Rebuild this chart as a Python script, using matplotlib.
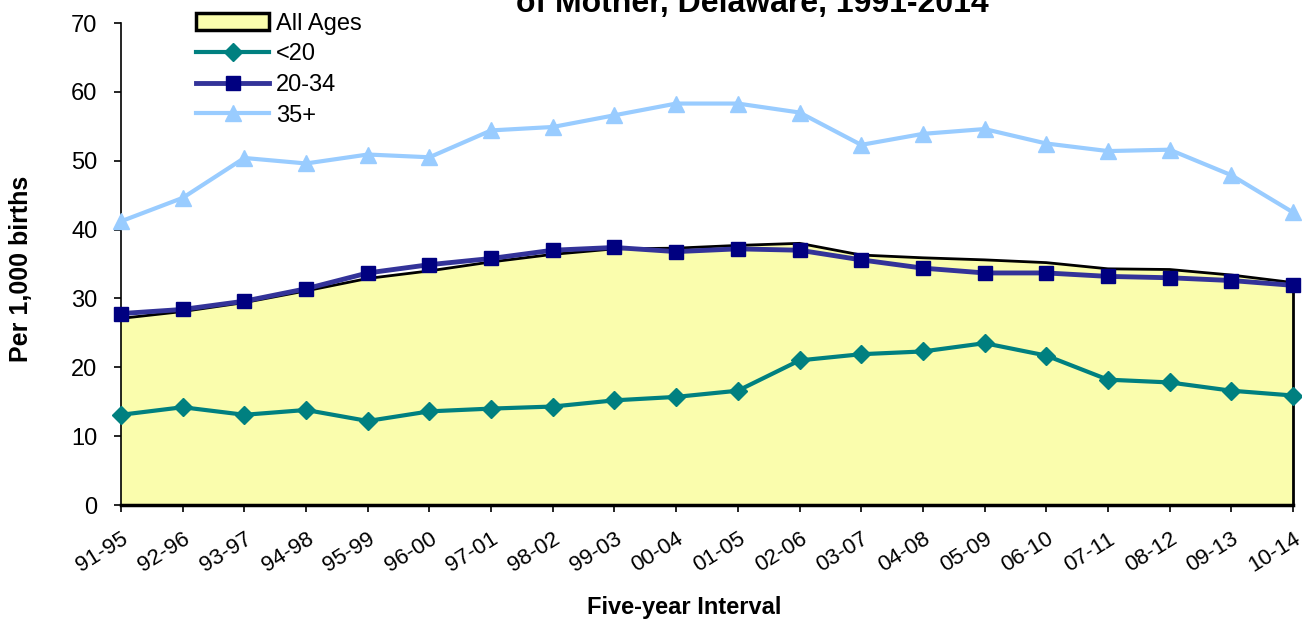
import matplotlib
matplotlib.use("Agg")
import matplotlib.pyplot as plt
from matplotlib.patches import Patch
from matplotlib.lines import Line2D

plt.rcParams['font.family'] = ['Liberation Sans', 'DejaVu Sans']

intervals = ["91-95", "92-96", "93-97", "94-98", "95-99", "96-00", "97-01", "98-02",
             "99-03", "00-04", "01-05", "02-06", "03-07", "04-08", "05-09", "06-10",
             "07-11", "08-12", "09-13", "10-14"]
all_ages = [27.1, 28.1, 29.4, 31.1, 32.9, 34.0, 35.3, 36.4, 37.2, 37.3,
            37.7, 38.0, 36.3, 35.9, 35.6, 35.2, 34.3, 34.2, 33.4, 32.3]
under20 = [13.1, 14.2, 13.1, 13.8, 12.2, 13.6, 14.0, 14.3, 15.2, 15.7,
           16.6, 21.0, 21.9, 22.3, 23.5, 21.7, 18.2, 17.8, 16.6, 15.9]
age20_34 = [27.8, 28.4, 29.6, 31.4, 33.7, 34.9, 35.8, 37.0, 37.4, 36.8,
            37.2, 37.0, 35.6, 34.4, 33.7, 33.7, 33.2, 33.0, 32.6, 31.9]
age35plus = [41.2, 44.6, 50.4, 49.6, 50.9, 50.5, 54.4, 54.9, 56.6, 58.3,
             58.3, 57.0, 52.3, 53.9, 54.6, 52.5, 51.4, 51.6, 47.9, 42.5]

W, H = 1302, 619
fig = plt.figure(figsize=(W / 100, H / 100), dpi=100)
ax = fig.add_axes([121 / W, 1 - 505 / H, (1293 - 121) / W, (505 - 23) / H])

x = list(range(len(intervals)))
ax.fill_between(x, all_ages, 0, facecolor='#FAFDAD', edgecolor='none', zorder=1)
ax.plot(x, all_ages, color='black', lw=2, zorder=2, clip_on=False)
ax.plot([x[-1], x[-1]], [0, all_ages[-1]], color='black', lw=2, zorder=2, clip_on=False)

ax.plot(x, under20, color='#008080', lw=3, marker='D', ms=9, mfc='#008080', mec='#008080',
        zorder=4, clip_on=False)
ax.plot(x, age20_34, color='#333399', lw=3.5, marker='s', ms=10, mfc='#000080', mec='#000080',
        zorder=3, clip_on=False)
ax.plot(x, age35plus, color='#99CCFF', lw=3, marker='^', ms=12, mfc='#99CCFF', mec='#99CCFF',
        zorder=3, clip_on=False)

ax.set_xlim(0, len(intervals) - 1)
ax.set_ylim(0, 70)
ax.set_yticks(range(0, 71, 10))
ax.set_xticks(x)
ax.set_xticklabels(intervals, rotation=32, ha='right', rotation_mode='anchor', fontsize=16)
ax.tick_params(axis='y', labelsize=17, length=5, width=1.2, direction='out', pad=12)
ax.tick_params(axis='x', length=5, width=1.2, direction='out', pad=12)
for s in ['top', 'right']:
    ax.spines[s].set_visible(False)
ax.spines['left'].set_linewidth(1.2)
ax.spines['bottom'].set_linewidth(2.5)

fig.text(21 / W, 1 - 269 / H, "Per 1,000 births", fontsize=18, fontweight='bold',
         rotation=90, ha='center', va='center')
fig.text(684 / W, 1 - 614 / H, "Five-year Interval", fontsize=17, fontweight='bold',
         ha='center', va='baseline')

fig.text(752 / W, 1 - 12 / H, "of Mother, Delaware, 1991-2014", fontsize=23,
         fontweight='bold', ha='center', va='baseline')

handles = [
    Patch(facecolor='#FAFDAD', edgecolor='black', lw=2.5),
    Line2D([], [], color='#008080', lw=3, marker='D', ms=9, mfc='#008080', mec='#008080'),
    Line2D([], [], color='#333399', lw=3.5, marker='s', ms=10, mfc='#000080', mec='#000080'),
    Line2D([], [], color='#99CCFF', lw=3, marker='^', ms=12, mfc='#99CCFF', mec='#99CCFF'),
]
labels = ["All Ages", "<20", "20-34", "35+"]
fig.legend(handles, labels, loc='upper left', bbox_to_anchor=(196 / W, 1 - 13 / H),
           frameon=False, fontsize=17, handlelength=3.1, handletextpad=0.3,
           labelspacing=0.36, borderaxespad=0, borderpad=0)

fig.savefig("out.png", dpi=100)
